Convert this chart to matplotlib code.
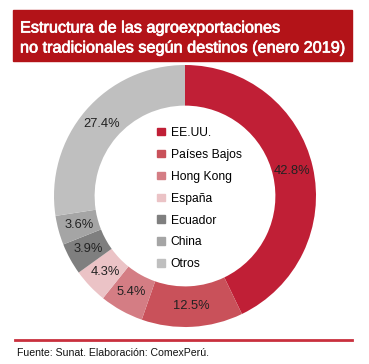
import numpy as np
import matplotlib.pyplot as plt
import matplotlib.patheffects as pe
from matplotlib.patches import Rectangle
from matplotlib.lines import Line2D

plt.rcParams["font.family"] = ["Liberation Sans", "DejaVu Sans"]

categories = ["EE.UU.", "Países Bajos", "Hong Kong", "España", "Ecuador", "China", "Otros"]
shares = [42.8, 12.5, 5.4, 4.3, 3.9, 3.6, 27.4]
colors = ["#C01F36", "#C9515A", "#D47D84", "#EBC3C6", "#7F7F7F", "#A5A5A5", "#BFBFBF"]

W, H = 369, 364
fig = plt.figure(figsize=(W / 100, H / 100), dpi=100)

# title banner
fig.patches.append(Rectangle((13 / W, 1 - 61 / H), 339 / W, 51 / H,
                             transform=fig.transFigure, color="#B31318", zorder=0))
stroke = [pe.withStroke(linewidth=0.5, foreground="white")]
fig.text(20 / W, 1 - 28 / H, "Estructura de las agroexportaciones",
         color="white", fontsize=11.7, va="center", ha="left", path_effects=stroke)
fig.text(20 / W, 1 - 48 / H, "no tradicionales según destinos (enero 2019)",
         color="white", fontsize=11.7, va="center", ha="left", path_effects=stroke)

# donut
cx, cy, r = 185, 196, 131
ax = fig.add_axes([(cx - r) / W, (H - cy - r) / H, 2 * r / W, 2 * r / H])
wedges, _ = ax.pie(shares, colors=colors, startangle=90, counterclock=False,
                   radius=1, wedgeprops=dict(width=0.31, edgecolor="none"))
ax.set_xlim(-1, 1)
ax.set_ylim(-1, 1)
ax.set_aspect("equal")
ax.axis("off")

for w, v in zip(wedges, shares):
    mid = np.deg2rad((w.theta1 + w.theta2) / 2)
    rr = 0.84
    ax.text(rr * np.cos(mid), rr * np.sin(mid), f"{v:.1f}%",
            ha="center", va="center", fontsize=9.3, color="#222222")

# legend
handles = [Rectangle((0, 0), 1, 1, color=c) for c in colors]
ax.legend(handles, categories, loc="center", bbox_to_anchor=(0.555, 0.49),
          frameon=False, fontsize=8.7, handlelength=0.6, handleheight=0.6,
          handletextpad=0.5, labelspacing=0.82)

# bottom rule and source
fig.add_artist(Line2D([15 / W, 352 / W], [1 - 340 / H, 1 - 340 / H],
                      color="#C9303D", lw=2))
fig.text(17 / W, 1 - 353 / H, "Fuente: Sunat. Elaboración: ComexPerú.",
         fontsize=7.55, va="center", ha="left", color="#111111")

fig.savefig("out.png", dpi=100)
